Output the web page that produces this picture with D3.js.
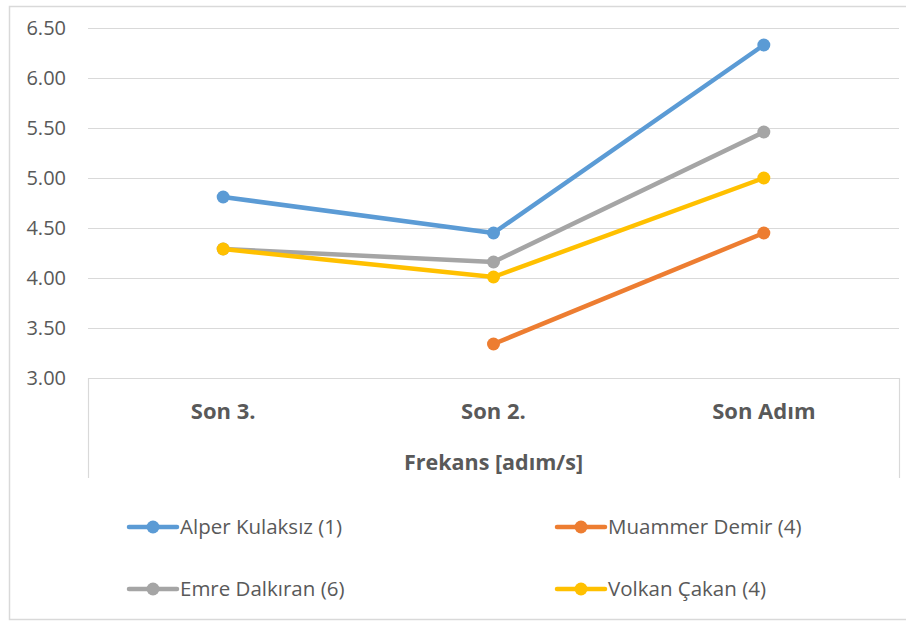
<!DOCTYPE html>
<html>
<head>
<meta charset="utf-8">
<script src="https://cdn.jsdelivr.net/npm/d3@7"></script>
<style>
  body { margin: 0; background: #fff; }
  text { font-family: "Open Sans", "Noto Sans", sans-serif; fill: #595959; }
</style>
</head>
<body>
<svg id="chart"></svg>
<script>
var categories = ["Son 3.", "Son 2.", "Son Adım"];
var seriesNames = ["Alper Kulaksız (1)", "Muammer Demir (4)", "Emre Dalkıran (6)", "Volkan Çakan (4)"];
var seriesColors = ["#5B9BD5", "#ED7D31", "#A5A5A5", "#FFC000"];
var alper = [4.81, 4.45, 6.33];
var muammer = [null, 3.34, 4.45];
var emre = [4.29, 4.16, 5.46];
var volkan = [4.29, 4.01, 5.00];
var yTicks = [3.0, 3.5, 4.0, 4.5, 5.0, 5.5, 6.0, 6.5];
var axisTitle = "Frekans [adım/s]";

var allSeries = [alper, muammer, emre, volkan];

var width = 906, height = 621;
var svg = d3.select("#chart")
  .attr("width", width)
  .attr("height", height);

// outer frame of the chart area
svg.append("rect")
  .attr("x", 9.5)
  .attr("y", 6.5)
  .attr("width", 910)
  .attr("height", 613)
  .style("fill", "none")
  .style("stroke", "#D9D9D9")
  .style("stroke-width", 1.5);

var plot = { left: 88, right: 899, top: 28, bottom: 378 };

var x = d3.scaleBand()
  .domain(categories)
  .range([plot.left, plot.right]);

var y = d3.scaleLinear()
  .domain([3, 6.5])
  .range([plot.bottom, plot.top]);

// gridlines
svg.append("g")
  .selectAll("line")
  .data(yTicks)
  .join("line")
    .attr("x1", plot.left)
    .attr("x2", plot.right)
    .attr("y1", function (d) { return Math.round(y(d)) + 0.5; })
    .attr("y2", function (d) { return Math.round(y(d)) + 0.5; })
    .style("stroke", "#D9D9D9")
    .style("stroke-width", 1.2);

// y tick labels
svg.append("g")
  .selectAll("text")
  .data(yTicks)
  .join("text")
    .attr("x", 66)
    .attr("y", function (d) { return y(d); })
    .attr("dy", "0.35em")
    .attr("text-anchor", "end")
    .style("font-size", "20px")
    .text(function (d) { return d3.format(".2f")(d); });

// category axis box (sides)
[plot.left, plot.right].forEach(function (xx) {
  svg.append("line")
    .attr("x1", xx + 0.5)
    .attr("x2", xx + 0.5)
    .attr("y1", plot.bottom)
    .attr("y2", 478)
    .style("stroke", "#D9D9D9")
    .style("stroke-width", 1.2);
});

// category labels
svg.append("g")
  .selectAll("text")
  .data(categories)
  .join("text")
    .attr("x", function (d) { return x(d) + x.bandwidth() / 2; })
    .attr("y", 411)
    .attr("dy", "0.35em")
    .attr("text-anchor", "middle")
    .style("font-size", "22px")
    .style("font-weight", "bold")
    .text(function (d) { return d; });

// axis title
svg.append("text")
  .attr("x", (plot.left + plot.right) / 2)
  .attr("y", 462)
  .attr("dy", "0.35em")
  .attr("text-anchor", "middle")
  .style("font-size", "21.5px")
  .style("font-weight", "bold")
  .text(axisTitle);

// lines and markers
var line = d3.line()
  .defined(function (d) { return d.v !== null; })
  .x(function (d) { return x(d.c) + x.bandwidth() / 2; })
  .y(function (d) { return y(d.v); });

allSeries.forEach(function (vals, i) {
  var pts = vals.map(function (v, j) { return { c: categories[j], v: v }; });
  var g = svg.append("g").attr("class", "series-" + i);
  g.append("path")
    .datum(pts)
    .attr("d", line)
    .style("fill", "none")
    .style("stroke", seriesColors[i])
    .style("stroke-width", 4.5)
    .style("stroke-linejoin", "round")
    .style("stroke-linecap", "round");
  g.selectAll("circle")
    .data(pts.filter(function (d) { return d.v !== null; }))
    .join("circle")
      .attr("cx", function (d) { return x(d.c) + x.bandwidth() / 2; })
      .attr("cy", function (d) { return y(d.v); })
      .attr("r", 6.5)
      .style("fill", seriesColors[i]);
});

// legend
var legendPos = [
  { x: 129, y: 527 },
  { x: 557, y: 527 },
  { x: 129, y: 589 },
  { x: 557, y: 589 }
];

var legend = svg.append("g")
  .selectAll("g")
  .data(seriesNames)
  .join("g")
    .attr("transform", function (d, i) { return "translate(" + legendPos[i].x + "," + legendPos[i].y + ")"; });

legend.append("line")
  .attr("x1", 0)
  .attr("x2", 48)
  .style("stroke", function (d, i) { return seriesColors[i]; })
  .style("stroke-width", 4.5)
  .style("stroke-linecap", "round");

legend.append("circle")
  .attr("cx", 24)
  .attr("r", 6.5)
  .style("fill", function (d, i) { return seriesColors[i]; });

legend.append("text")
  .attr("x", 51)
  .attr("dy", "0.35em")
  .style("font-size", "20.5px")
  .text(function (d) { return d; });
</script>
</body>
</html>
